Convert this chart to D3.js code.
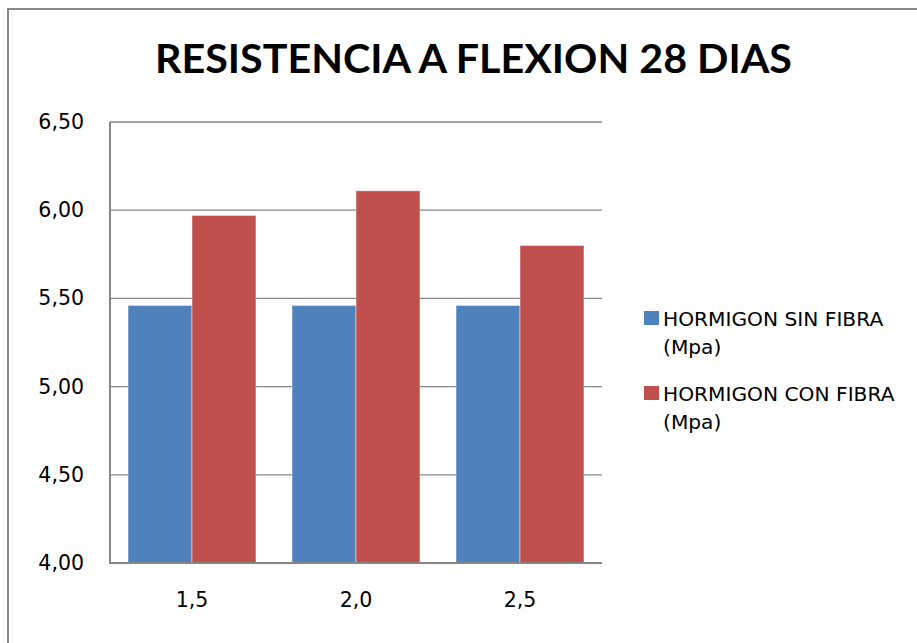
<!DOCTYPE html>
<html>
<head>
<meta charset="utf-8">
<script src="https://cdn.jsdelivr.net/npm/d3@7"></script>
<style>
  html, body { margin: 0; padding: 0; background: #fff; }
  svg { display: block; }
  text { font-family: "DejaVu Sans", "Open Sans", sans-serif; fill: #000; }
</style>
</head>
<body>
<svg id="chart" width="917" height="643"></svg>
<script>
// Flexural strength at 28 days, by fibre dosage
const categories = ["1,5", "2,0", "2,5"];
const seriesNames = ["HORMIGON SIN FIBRA (Mpa)", "HORMIGON CON FIBRA (Mpa)"];
const sinFibra = [5.46, 5.46, 5.46];
const conFibra = [5.97, 6.11, 5.80];
const yTicks = [4.00, 4.50, 5.00, 5.50, 6.00, 6.50];
const colors = ["#4F81BD", "#C0504D"];
const title = "RESISTENCIA A FLEXION 28 DIAS";

const svg = d3.select("#chart");
const W = 917, H = 643;
const plot = { left: 110, right: 602, top: 122, bottom: 563 };

// outer chart frame
svg.append("rect")
  .attr("x", 8).attr("y", 9)
  .attr("width", W + 10).attr("height", H + 10)
  .attr("fill", "#fff")
  .attr("stroke", "#888").attr("stroke-width", 2);

// title
svg.append("text")
  .attr("x", 155).attr("y", 73)
  .attr("textLength", 637).attr("lengthAdjust", "spacingAndGlyphs")
  .style("font-family", "Lato, 'Open Sans', sans-serif")
  .style("font-size", "40px").style("font-weight", "bold")
  .text(title);

const y = d3.scaleLinear().domain([4, 6.5]).range([plot.bottom, plot.top]);
const x0 = d3.scaleBand().domain(categories).range([plot.left, plot.right])
  .paddingInner(0.22).paddingOuter(0.11);
const x1 = d3.scaleBand().domain([0, 1]).range([0, x0.bandwidth()]);

const fmt = v => d3.format(".2f")(v).replace(".", ",");

// horizontal gridlines
svg.append("g")
  .selectAll("line")
  .data(yTicks.filter(t => t > 4))
  .join("line")
  .attr("x1", plot.left).attr("x2", plot.right)
  .attr("y1", d => y(d)).attr("y2", d => y(d))
  .attr("stroke", "#868686").attr("stroke-width", 1.3);

// value axis labels
const yAxis = d3.axisLeft(y).tickValues(yTicks).tickFormat(fmt).tickSize(0).tickPadding(26);
const gy = svg.append("g").attr("transform", `translate(${plot.left},0)`).call(yAxis);
gy.select(".domain").remove();
gy.selectAll("text").style("font-size", "20.5px").style("font-family", "'DejaVu Sans', sans-serif");

// bars
const rows = categories.map((c, i) => ({ c, vals: [sinFibra[i], conFibra[i]] }));
svg.append("g")
  .selectAll("g")
  .data(rows)
  .join("g")
  .attr("transform", d => `translate(${x0(d.c)},0)`)
  .selectAll("rect")
  .data(d => d.vals.map((v, k) => ({ v, k })))
  .join("rect")
  .attr("x", d => x1(d.k))
  .attr("width", x1.bandwidth())
  .attr("y", d => y(d.v))
  .attr("height", d => y(4) - y(d.v))
  .attr("fill", d => colors[d.k])
  .attr("stroke", "rgba(255,255,255,0.45)").attr("stroke-width", 1);

// axis lines
svg.append("line")
  .attr("x1", plot.left).attr("x2", plot.left)
  .attr("y1", plot.top).attr("y2", plot.bottom + 1)
  .attr("stroke", "#868686").attr("stroke-width", 2);
svg.append("line")
  .attr("x1", plot.left).attr("x2", plot.right)
  .attr("y1", plot.bottom).attr("y2", plot.bottom)
  .attr("stroke", "#868686").attr("stroke-width", 2);

// category labels
const xAxis = d3.axisBottom(x0).tickSize(0).tickPadding(29);
const gx = svg.append("g").attr("transform", `translate(0,${plot.bottom})`).call(xAxis);
gx.select(".domain").remove();
gx.selectAll("text").style("font-size", "20.5px").style("font-family", "'DejaVu Sans', sans-serif");

// legend
const legendLines = [["HORMIGON SIN FIBRA", "(Mpa)"], ["HORMIGON CON FIBRA", "(Mpa)"]];
const lg = svg.append("g").selectAll("g")
  .data(seriesNames)
  .join("g")
  .attr("transform", (d, i) => `translate(644,${311 + i * 75})`);
lg.append("rect").attr("width", 15).attr("height", 14)
  .attr("fill", (d, i) => colors[i]);
lg.append("text")
  .attr("x", 19).attr("y", 15)
  .style("font-size", "20.2px")
  .each(function (d, i) {
    const t = d3.select(this);
    legendLines[i].forEach((ln, j) => {
      t.append("tspan").attr("x", 19).attr("dy", j === 0 ? 0 : 28).text(ln);
    });
  });
</script>
</body>
</html>
